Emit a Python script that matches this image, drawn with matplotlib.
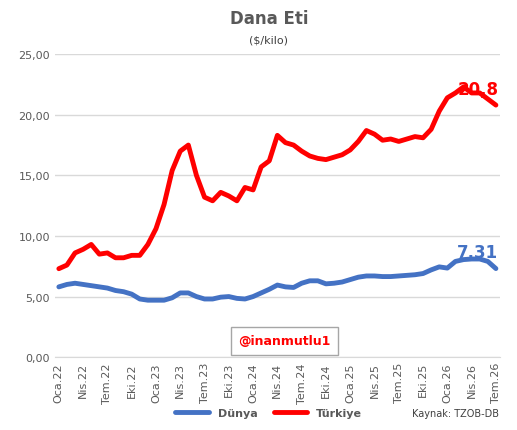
import matplotlib
matplotlib.use("Agg")
import matplotlib.pyplot as plt
from matplotlib.ticker import FuncFormatter, MultipleLocator

months = ["Oca","Şub","Mar","Nis","May","Haz","Tem","Ağu","Eyl","Eki","Kas","Ara"]
labels = []
for y in range(22, 27):
    for m in months:
        labels.append(f"{m}.{y}")
labels = labels[:55]

turkiye = [7.3,7.6,8.6,8.9,9.3,8.5,8.6,8.2,8.2,8.4,8.4,9.3,10.6,12.6,15.4,17.0,17.5,15.0,13.2,12.9,
           13.6,13.3,12.9,14.0,13.8,15.7,16.2,18.3,17.7,17.5,17.0,16.6,16.4,16.3,16.5,16.7,17.1,17.8,
           18.7,18.4,17.9,18.0,17.8,18.0,18.2,18.1,18.8,20.3,21.4,21.8,22.3,21.8,21.8,21.3,20.8]
dunya = [5.8,6.0,6.1,6.0,5.9,5.8,5.7,5.5,5.4,5.2,4.8,4.7,4.7,4.7,4.9,5.3,5.3,5.0,4.8,4.8,4.95,5.0,
         4.85,4.8,5.0,5.3,5.6,5.95,5.8,5.75,6.1,6.3,6.3,6.05,6.1,6.2,6.4,6.6,6.7,6.7,6.65,6.65,6.7,
         6.75,6.8,6.9,7.2,7.45,7.35,7.9,8.05,8.1,8.1,7.9,7.31]

fig = plt.figure(figsize=(5.17, 4.31), dpi=100)
ax = fig.add_axes([0.106, 0.169, 0.861, 0.703])
x = list(range(len(labels)))
ax.plot(x, dunya, color="#4472C4", lw=3.5, label="Dünya", solid_capstyle="round")
ax.plot(x, turkiye, color="#FF0000", lw=3.5, label="Türkiye", solid_capstyle="round")
ax.set_ylim(0, 25)
ax.set_xlim(-0.5, 54.5)
ax.yaxis.set_major_locator(MultipleLocator(5))
ax.yaxis.set_major_formatter(FuncFormatter(lambda v, p: f"{v:.2f}".replace(".", ",")))
ax.set_xticks(x[::3])
ax.set_xticklabels(labels[::3], rotation=90, fontsize=8, color="#595959")
ax.tick_params(axis="y", labelsize=8, labelcolor="#595959", length=0)
ax.tick_params(axis="x", length=0)
ax.grid(axis="y", color="#D9D9D9", lw=1)
for s in ["top", "right", "left"]:
    ax.spines[s].set_visible(False)
ax.spines["bottom"].set_color("#D9D9D9")
ax.set_axisbelow(True)

ax.text(x[-1] + 0.3, turkiye[-1] + 0.6, f"{turkiye[-1]:.1f}".replace(".", ","), color="#FF0000",
        fontsize=12, fontweight="bold", ha="right", va="bottom")
ax.text(x[-1] + 0.3, dunya[-1] + 0.6, f"{dunya[-1]:.2f}".replace(".", ","), color="#4472C4",
        fontsize=12, fontweight="bold", ha="right", va="bottom")

fig.text(0.52, 0.955, "Dana Eti", ha="center", va="center", fontsize=12, fontweight="bold", color="#595959")
fig.text(0.52, 0.905, "($/kilo)", ha="center", va="center", fontsize=8, color="#404040")
fig.text(0.55, 0.207, "@inanmutlu1", ha="center", va="center", fontsize=9, fontweight="bold", color="#FF0000",
         bbox=dict(boxstyle="square,pad=0.6", fc="white", ec="#A6A6A6"))
leg = fig.legend(loc="center", bbox_to_anchor=(0.52, 0.04), ncol=2, frameon=False,
                 prop={"size": 8, "weight": "bold"}, handlelength=3, columnspacing=1.5)
for t in leg.get_texts():
    t.set_color("#595959")
fig.text(0.965, 0.04, "Kaynak: TZOB-DB", ha="right", va="center", fontsize=7, color="#404040")
fig.savefig("out.png", dpi=100)
